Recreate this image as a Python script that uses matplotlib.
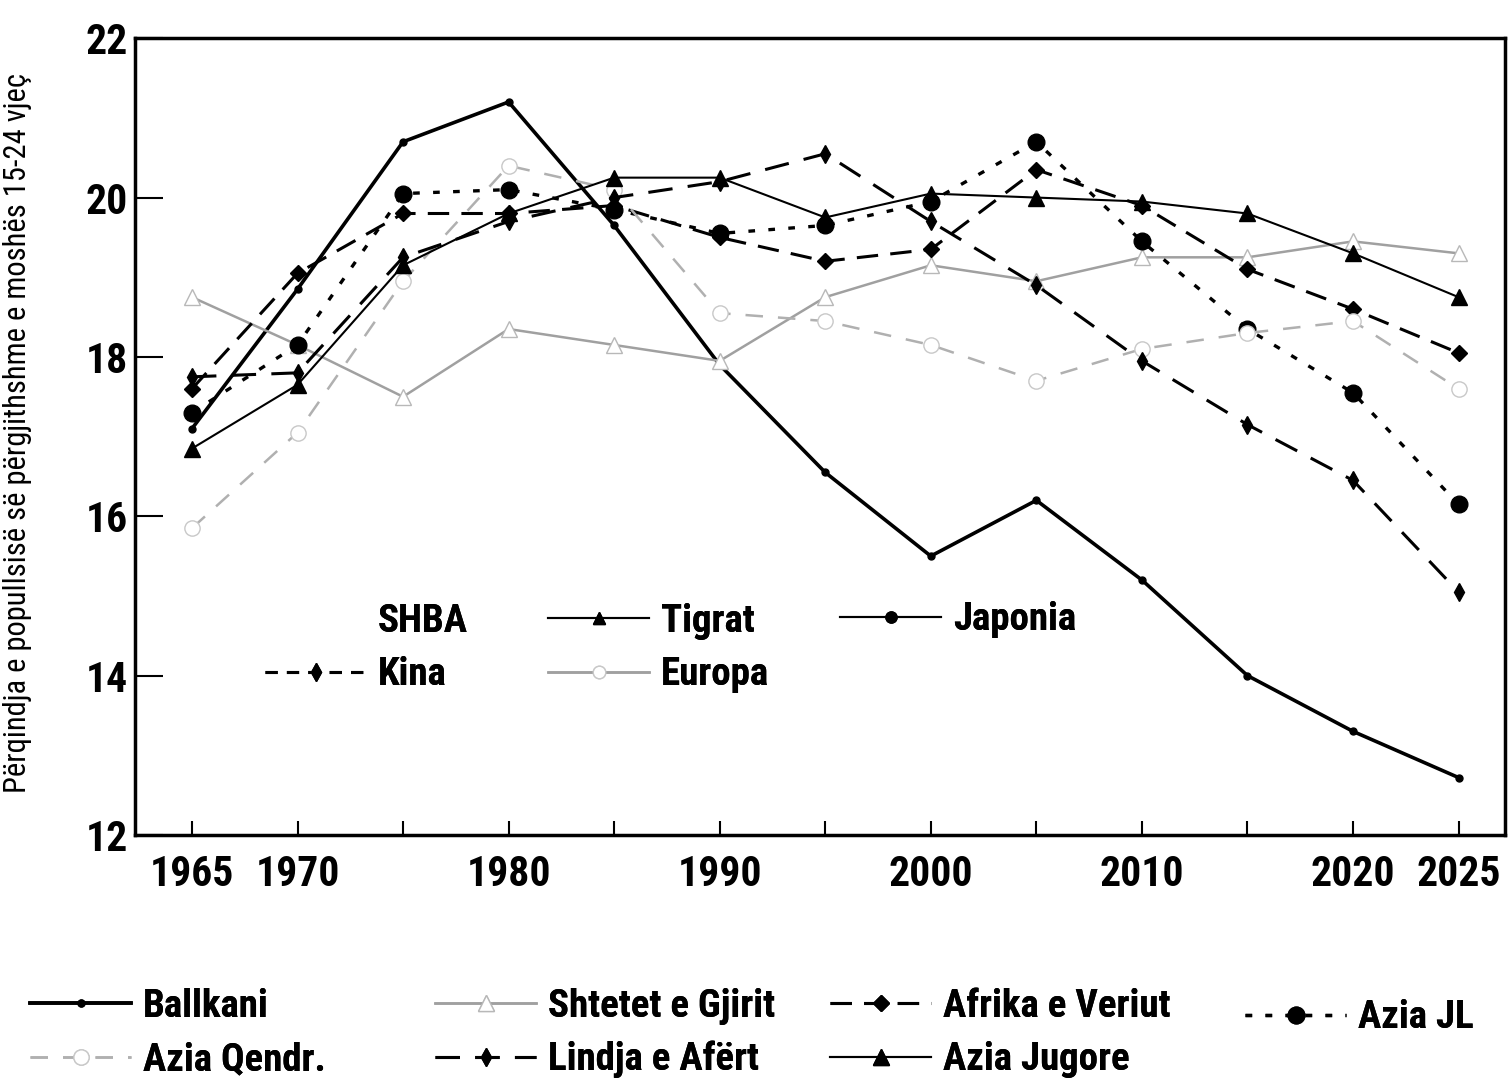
import matplotlib
matplotlib.use('Agg')
import matplotlib.pyplot as plt
from matplotlib import font_manager
from matplotlib.lines import Line2D

# look for a narrow font, the original uses a tall condensed face
narrow = {}
for f in font_manager.fontManager.ttflist:
    if (f.stretch in ('condensed', 'extra-condensed', 'semi-condensed', 'ultra-condensed')
            or 'Narrow' in f.name or 'Condensed' in f.name):
        narrow[f.name] = f.stretch
fam = None
for n in ['Liberation Sans Narrow', 'Roboto Condensed', 'Open Sans Condensed', 'Noto Sans',
          'DejaVu Sans', 'Noto Sans Display']:
    if n in narrow:
        fam = n
        break
if fam is None and narrow:
    fam = sorted(narrow)[0]

if fam:
    plt.rcParams['font.family'] = [fam, 'DejaVu Sans']
    plt.rcParams['font.stretch'] = 'condensed'
    tick_fs, leg_fs, ylab_fs, hl = 30, 28, 22, 2.6
else:
    plt.rcParams['font.family'] = ['DejaVu Sans']
    tick_fs, leg_fs, ylab_fs, hl = 23, 22, 16, 2.9

years = [1965, 1970, 1975, 1980, 1985, 1990, 1995, 2000, 2005, 2010, 2015, 2020, 2025]

ballkani = [17.1, 18.85, 20.7, 21.2, 19.65, 17.9, 16.55, 15.5, 16.2, 15.2, 14.0, 13.3, 12.72]
gjirit = [18.75, 18.15, 17.5, 18.35, 18.15, 17.95, 18.75, 19.15, 18.95, 19.25, 19.25, 19.45, 19.3]
afrika = [17.6, 19.05, 19.8, 19.8, 19.9, 19.5, 19.2, 19.35, 20.35, 19.9, 19.1, 18.6, 18.05]
azia_jl = [17.3, 18.15, 20.05, 20.1, 19.85, 19.55, 19.65, 19.95, 20.7, 19.45, 18.35, 17.55, 16.15]
qendr = [15.85, 17.05, 18.95, 20.4, 20.1, 18.55, 18.45, 18.15, 17.7, 18.1, 18.3, 18.45, 17.6]
lindja = [17.75, 17.8, 19.25, 19.7, 20.0, 20.2, 20.55, 19.7, 18.9, 17.95, 17.15, 16.45, 15.05]
jugore = [16.85, 17.65, 19.15, 19.8, 20.25, 20.25, 19.75, 20.05, 20.0, 19.95, 19.8, 19.3, 18.75]

xticks = list(range(1965, 2030, 5))
xlabels_shown = [1965, 1970, 1980, 1990, 2000, 2010, 2020, 2025]

fig = plt.figure(figsize=(15.08, 10.92), dpi=100)
ax = fig.add_axes([0.0895, 0.2354, 0.9085, 0.7296])

l_bal, = ax.plot(years, ballkani, color='black', lw=2.6, marker='o', ms=5, label='Ballkani')
l_gji, = ax.plot(years, gjirit, color='#a0a0a0', lw=1.8, marker='^', ms=11,
                 mfc='white', mec='#b8b8b8', label='Shtetet e Gjirit')
l_afr, = ax.plot(years, afrika, color='black', lw=2.2, ls=(0, (7, 4)), marker='D', ms=8,
                 label='Afrika e Veriut')
l_jl, = ax.plot(years, azia_jl, color='black', lw=2.4, ls=(0, (2, 4)), marker='o', ms=12,
                label='Azia JL')
l_qen, = ax.plot(years, qendr, color='#b0b0b0', lw=1.8, ls=(0, (7, 6)), marker='o', ms=11,
                 mfc='white', mec='#c8c8c8', label='Azia Qendr.')
l_lin, = ax.plot(years, lindja, color='black', lw=2.2, ls=(0, (8, 5)), marker='d', ms=9,
                 label='Lindja e Afërt')
l_jug, = ax.plot(years, jugore, color='black', lw=1.5, marker='^', ms=11, label='Azia Jugore')

ax.set_xlim(1962.3, 2027.2)
ax.set_ylim(12, 22)
ax.set_yticks([12, 14, 16, 18, 20, 22])
ax.set_xticks(xticks)
ax.set_xticklabels([str(y) if y in xlabels_shown else '' for y in xticks])

for s in ax.spines.values():
    s.set_linewidth(2.5)
ax.tick_params(axis='y', direction='in', length=20, width=1.5, pad=5, labelsize=tick_fs)
ax.tick_params(axis='x', direction='in', length=10, width=1.5, pad=14, labelsize=tick_fs)
for t in ax.get_xticklabels() + ax.get_yticklabels():
    t.set_fontweight('bold')

ax.set_ylabel('Përqindja e popullsisë së përgjithshme e moshës 15-24 vjeç', fontsize=ylab_fs)
ax.yaxis.set_label_coords(-0.075, 0.505)

common = dict(frameon=False, borderpad=0, borderaxespad=0, handlelength=hl,
              handletextpad=0.3, labelspacing=0.42, prop={'size': leg_fs, 'weight': 'bold'})

# legend inside the plot (entries without lines in the chart)
shba = Line2D([], [], color='none', label='SHBA')
kina = Line2D([], [], color='black', lw=2.2, ls=(0, (4, 3)), marker='d', ms=9, label='Kina')
tigrat = Line2D([], [], color='black', lw=1.5, marker='^', ms=9, label='Tigrat')
europa = Line2D([], [], color='#a0a0a0', lw=1.8, marker='o', ms=9, mfc='white', mec='#c8c8c8',
                label='Europa')
japonia = Line2D([], [], color='black', lw=1.5, marker='o', ms=8, label='Japonia')

lg = fig.legend(handles=[shba, kina], loc='center left', bbox_to_anchor=(265 / 1508, 1 - 648 / 1092), **common)
fig.add_artist(lg)
lg = fig.legend(handles=[tigrat, europa], loc='center left', bbox_to_anchor=(548 / 1508, 1 - 648 / 1092), **common)
fig.add_artist(lg)
lg = fig.legend(handles=[japonia], loc='center left', bbox_to_anchor=(840 / 1508, 1 - 620 / 1092), **common)
fig.add_artist(lg)

# legend under the chart
cols = [([l_bal, l_qen], 30, 1033), ([l_gji, l_lin], 435, 1033),
        ([l_afr, l_jug], 830, 1033), ([l_jl], 1245, 1018)]
for hs, xpx, ypx in cols:
    lg = fig.legend(handles=hs, loc='center left', bbox_to_anchor=(xpx / 1508, 1 - ypx / 1092), **common)
    fig.add_artist(lg)

fig.savefig('out.png', dpi=100)
